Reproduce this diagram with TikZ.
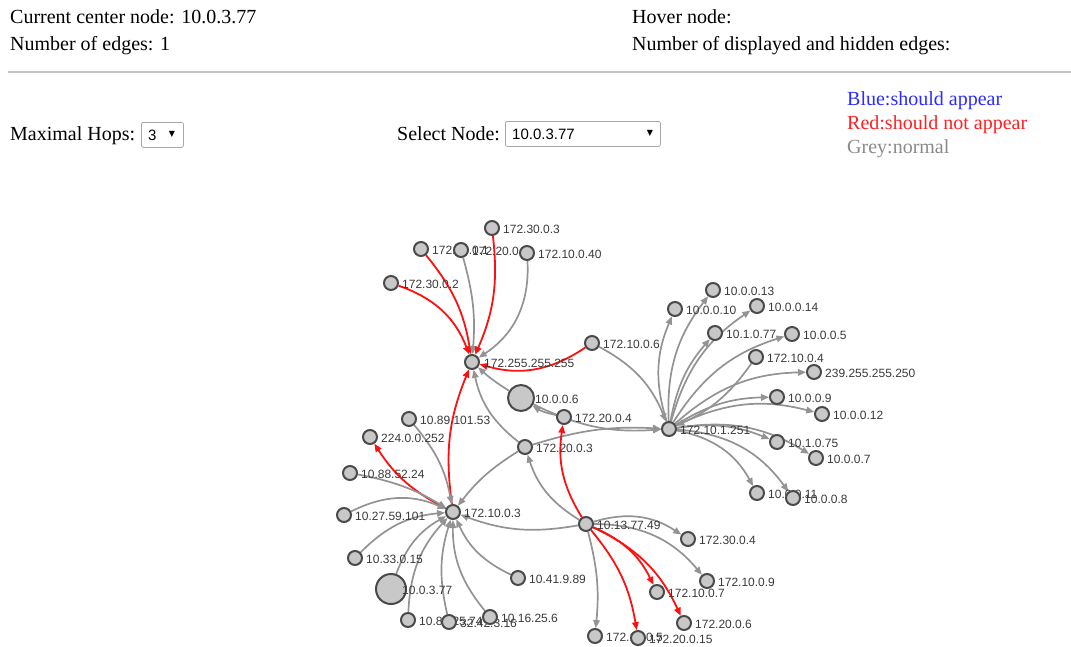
\documentclass[tikz,border=0pt]{standalone}
\usepackage{fontspec}
\setmainfont{Liberation Serif}
\newfontfamily\lab{Liberation Sans}
\newfontfamily\sym{DejaVu Sans}
\usetikzlibrary{arrows.meta,backgrounds}

\definecolor{nodefill}{HTML}{C8C8C8}
\definecolor{nodeedge}{HTML}{4A4A4A}
\definecolor{edgegrey}{HTML}{939393}
\definecolor{labelc}{HTML}{3A3A3A}
\definecolor{rulec}{HTML}{C4C4C4}
\definecolor{boxc}{HTML}{A8A8A8}
\definecolor{legblue}{HTML}{2B2BFF}
\definecolor{legred}{HTML}{FF2020}
\definecolor{leggrey}{HTML}{8A8A8A}
\definecolor{edgered}{HTML}{FF1010}

\tikzset{
  nd/.style={circle, fill=nodefill, draw=nodeedge, line width=2pt, minimum size=14pt, inner sep=0pt},
  bignd/.style={nd, minimum size=#1},
  lbl/.style={anchor=west, font=\lab\fontsize{12}{12}\selectfont, text=labelc, inner sep=0pt},
  hdr/.style={anchor=base west, font=\fontsize{20}{20}\selectfont, inner sep=0pt},
  ge/.style={draw=edgegrey, line width=1.7pt, -{Triangle[length=8pt,width=6.5pt]}},
  re/.style={draw=edgered, line width=1.8pt, -{Triangle[length=8pt,width=6.5pt]}},
  ddbox/.style={draw=boxc, line width=0.8pt, rounded corners=2pt, anchor=north west, inner sep=0pt},
  ddtext/.style={anchor=base west, font=\lab\fontsize{15}{15}\selectfont, inner sep=0pt},
  ddarrow/.style={font=\sym\fontsize{8}{8}\selectfont, inner sep=0pt}
}

% graph node with its address printed just right of the circle
\newcommand{\gnode}[5][nd]{%
  \node[#1] (#2) at (#3) {};
  \node[lbl] (#2l) at ([shift={(#4,1)}]#2.center) {#5};
}

\begin{document}
\begin{tikzpicture}[x=1pt,y=-1pt]
\useasboundingbox (0,0) rectangle (1071,646);

% ---- header ----
\node[hdr] (cur) at (10,23) {Current center node: 10.0.3.77};
\node[hdr] (nedg) at (10,50) {Number of edges: 1};
\node[hdr] (hov) at (632,23) {Hover node:};
\node[hdr] (ndh) at (632,50) {Number of displayed and hidden edges:};
\draw[rulec, line width=2pt] (8,72) -- (1071,72);

% ---- controls ----
\node[hdr] (hops) at (10,140) {Maximal Hops:};
\node[ddbox, minimum width=42pt, minimum height=25pt] (hopbox) at (141,122) {};
\node[ddtext] (hopval) at (148,140) {3};
\node[ddarrow] (hoparr) at (172,134) {▼};
\node[hdr] (seln) at (397,140) {Select Node:};
\node[ddbox, minimum width=155pt, minimum height=25pt] (selbox) at (505,121) {};
\node[ddtext] (selval) at (512,139) {10.0.3.77};
\node[ddarrow] (selarr) at (650,133) {▼};

% ---- legend ----
\node[hdr, text=legblue] (lb) at (847,105) {Blue:should appear};
\node[hdr, text=legred] (lr) at (847,129) {Red:should not appear};
\node[hdr, text=leggrey] (lg) at (847,153) {Grey:normal};

% ---- graph nodes ----
\gnode{n302}{391,283}{11}{172.30.0.2}
\gnode{n101}{421,249}{11}{172.10.0.1}
\gnode{n202}{461,250}{11}{172.20.0.2}
\gnode{n303}{492,228}{11}{172.30.0.3}
\gnode{n1040}{527,253}{11}{172.10.0.40}
\gnode{n255}{472,362}{12}{172.255.255.255}
\gnode{n106}{592,343}{11}{172.10.0.6}
\gnode[bignd=26pt]{n006}{521,398}{14}{10.0.0.6}
\gnode{n204}{564,417}{11}{172.20.0.4}
\gnode{n8910}{409,419}{11}{10.89.101.53}
\gnode{n224}{370,437}{11}{224.0.0.252}
\gnode{n203}{525,447}{11}{172.20.0.3}
\gnode{hub}{669,429}{11}{172.10.1.251}
\gnode{n8852}{350,473}{11}{10.88.52.24}
\gnode{n2759}{344,515}{11}{10.27.59.101}
\gnode{n103}{453,512}{11}{172.10.0.3}
\gnode{n3301}{355,558}{11}{10.33.0.15}
\gnode[bignd=30pt]{n377}{391,589}{11}{10.0.3.77}
\gnode{n4198}{518,578}{11}{10.41.9.89}
\gnode{nA}{408,620}{11}{10.88.25.74}
\gnode{nB}{449,622}{11}{32.42.3.16}
\gnode{nC}{490,617}{11}{10.16.25.6}
\gnode{n1377}{586,524}{11}{10.13.77.49}
\gnode{n304}{688,539}{11}{172.30.0.4}
\gnode{n109}{707,581}{11}{172.10.0.9}
\gnode{n107}{657,592}{11}{172.10.0.7}
\gnode{n206}{684,623}{11}{172.20.0.6}
\gnode{n105}{595,636}{11}{172.10.0.5}
\gnode{n2015}{638,638}{11}{172.20.0.15}
\gnode{n0013}{713,290}{11}{10.0.0.13}
\gnode{n0010}{675,309}{11}{10.0.0.10}
\gnode{n0014}{757,306}{11}{10.0.0.14}
\gnode{n1077}{715,333}{11}{10.1.0.77}
\gnode{n005}{792,334}{11}{10.0.0.5}
\gnode{n104}{756,357}{11}{172.10.0.4}
\gnode{n239}{814,372}{11}{239.255.255.250}
\gnode{n009}{777,397}{11}{10.0.0.9}
\gnode{n0012}{822,414}{11}{10.0.0.12}
\gnode{n1075}{777,442}{11}{10.1.0.75}
\gnode{n007}{816,458}{11}{10.0.0.7}
\gnode{n0011}{757,493}{11}{10.0.0.11}
\gnode{n008}{793,498}{11}{10.0.0.8}

% ---- connectors ----
\begin{scope}[on background layer]
  % into 172.255.255.255
  \draw[re] (n302) to[bend left=25] (n255);
  \draw[re] (n101) to[bend left=15] (n255);
  \draw[ge] (n202) to[bend left=10] (n255);
  \draw[re] (n303) to[bend left=15] (n255);
  \draw[ge] (n1040) to[bend left=30] (n255);
  \draw[re] (n106) to[bend left=25] (n255);
  \draw[ge] (n006) to[bend left=5] (n255);
  \draw[ge] (n203) to[bend left=20] (n255);
  \draw[re] (n103) to[bend left=15] (n255);
  % hub 172.10.1.251
  \draw[ge] (n106) to[bend left=20] (hub);
  \draw[ge] (hub) to[bend left=20] (n0010);
  \draw[ge] (hub) to[bend left=20] (n0013);
  \draw[ge] (hub) to[bend left=20] (n0014);
  \draw[ge] (hub) to[bend left=15] (n1077);
  \draw[ge] (hub) to[bend left=20] (n005);
  \draw[ge] (n104) to[bend left=15] (hub);
  \draw[ge] (hub) to[bend left=20] (n239);
  \draw[ge] (hub) to[bend left=15] (n009);
  \draw[ge] (hub) to[bend left=20] (n0012);
  \draw[ge] (hub) to[bend left=15] (n1075);
  \draw[ge] (hub) to[bend left=20] (n007);
  \draw[ge] (hub) to[bend left=25] (n0011);
  \draw[ge] (hub) to[bend left=25] (n008);
  \draw[ge] (n006) to[bend right=15] (hub);
  \draw[ge] (n203) to[bend left=10] (hub);
  \draw[ge] (n204) to[bend left=10] (n006);
  % 10.13.77.49
  \draw[re] (n1377) to[bend left=20] (n204);
  \draw[ge] (n1377) to[bend left=20] (n203);
  \draw[ge] (n1377) to[bend left=15] (n103);
  \draw[ge] (n1377) to[bend left=25] (n304);
  \draw[ge] (n1377) to[bend left=25] (n109);
  \draw[re] (n1377) to[bend left=20] (n107);
  \draw[re] (n1377) to[bend left=20] (n206);
  \draw[re] (n1377) to[bend left=15] (n2015);
  \draw[ge] (n1377) to[bend left=10] (n105);
  % 172.10.0.3
  \draw[re] (n103) to[bend left=15] (n224);
  \draw[ge] (n8852) to[bend left=10] (n103);
  \draw[ge] (n8910) to[bend left=15] (n103);
  \draw[ge] (n2759) to[bend left=25] (n103);
  \draw[ge] (n3301) to[bend left=20] (n103);
  \draw[ge] (n377) to[bend left=20] (n103);
  \draw[ge] (nA) to[bend left=20] (n103);
  \draw[ge] (nB) to[bend left=15] (n103);
  \draw[ge] (nC) to[bend left=20] (n103);
  \draw[ge] (n4198) to[bend left=20] (n103);
  \draw[ge] (n203) to[bend right=10] (n103);
\end{scope}
\end{tikzpicture}
\end{document}
